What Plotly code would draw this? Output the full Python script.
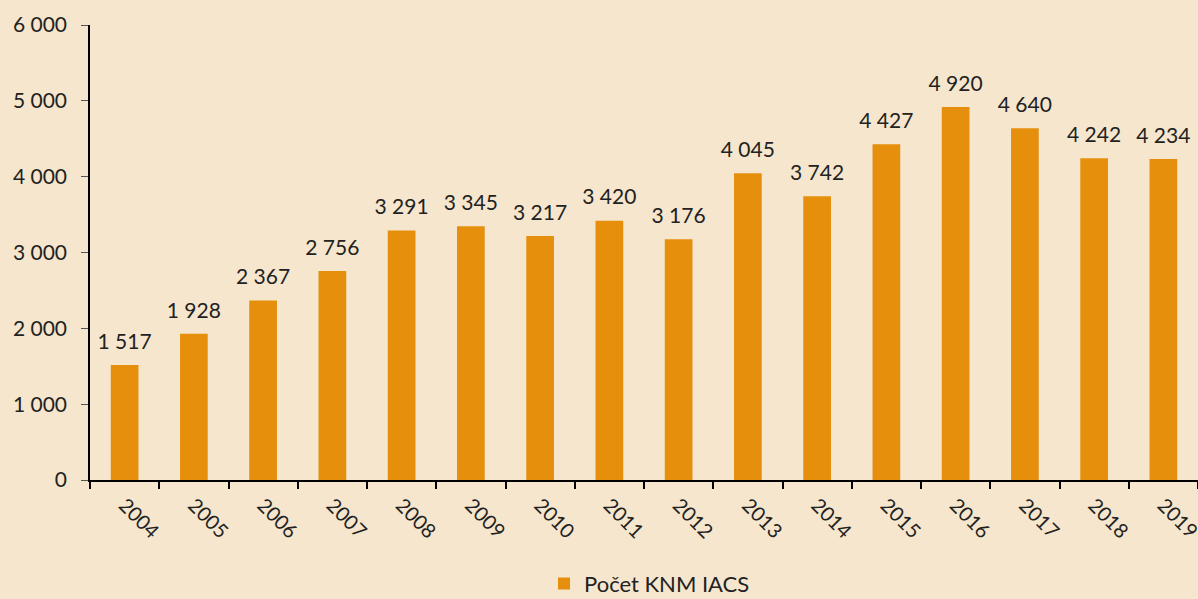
import plotly.graph_objects as go

years = ["2004", "2005", "2006", "2007", "2008", "2009", "2010", "2011",
         "2012", "2013", "2014", "2015", "2016", "2017", "2018", "2019"]
counts = [1517, 1928, 2367, 2756, 3291, 3345, 3217, 3420,
          3176, 4045, 3742, 4427, 4920, 4640, 4242, 4234]
series_name = "Počet KNM IACS"
y_ticks = [0, 1000, 2000, 3000, 4000, 5000, 6000]

def fmt(v):
    return f"{v:,}".replace(",", " ")

BG = "#F5E6CD"
BAR = "#E68F0C"
TXT = "#222222"
FONT = "Lato, 'Open Sans', sans-serif"

fig = go.Figure()
fig.add_trace(go.Bar(
    x=years, y=counts, name=series_name,
    marker=dict(color=BAR, line=dict(width=0)),
))
fig.add_trace(go.Scatter(
    x=years, y=counts, mode="markers+text", showlegend=False, hoverinfo="skip",
    marker=dict(size=16, color="rgba(0,0,0,0)"),
    text=[fmt(v) for v in counts], textposition="top center",
    textfont=dict(size=21, color=TXT, family=FONT),
    cliponaxis=False,
))

fig.update_layout(
    width=1198, height=599,
    paper_bgcolor=BG, plot_bgcolor=BG,
    margin=dict(l=90, r=0, t=25, b=119, autoexpand=False),
    font=dict(family=FONT, size=19, color=TXT),
    bargap=0.6,
    showlegend=True,
    legend=dict(orientation="h", x=0.505, xanchor="center", y=-0.228, yanchor="middle",
                font=dict(size=22, color=TXT, family=FONT), bgcolor="rgba(0,0,0,0)"),
    xaxis=dict(
        type="category", tickangle=45, tickson="boundaries",
        range=[-0.5, len(years) - 0.5], autorange=False,
        showline=True, linecolor="black", linewidth=1.5,
        ticks="outside", ticklen=7, tickcolor="black", tickwidth=1.5,
        tickfont=dict(size=20, color=TXT), showgrid=False,
        ticklabelstandoff=4, automargin=False,
    ),
    yaxis=dict(
        range=[0, 6000], tickvals=y_ticks, ticktext=[fmt(v) for v in y_ticks],
        showline=True, linecolor="black", linewidth=1.5,
        ticks="outside", ticklen=7, tickcolor="#555555", tickwidth=1,
        tickfont=dict(size=21, color=TXT), showgrid=False, zeroline=False,
        ticklabelstandoff=10, automargin=False,
    ),
)

fig.write_html("out.html", config={"displayModeBar": False},
               post_script="document.body.style.margin='0';document.body.style.background='%s';" % BG)
